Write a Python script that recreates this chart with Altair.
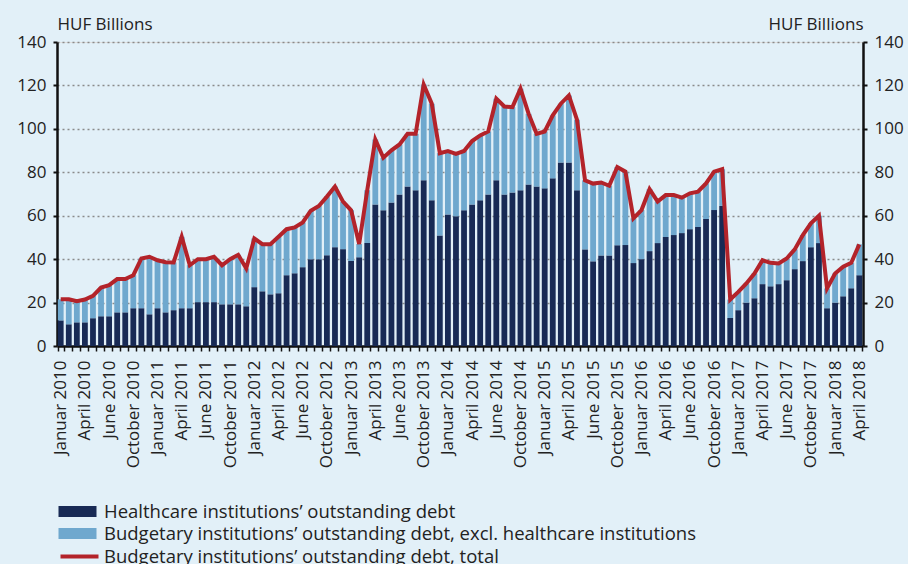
import altair as alt
import pandas as pd

# Healthcare institutions' outstanding debt (HUF bn), Jan 2010 .. Apr 2018
healthcare = [
    11.8, 10.0, 10.9, 10.9, 12.8, 13.7, 13.7, 15.5, 15.5, 17.4,
    17.4, 14.6, 17.4, 15.5, 16.5, 17.4, 17.4, 20.2, 20.2, 20.2,
    19.2, 19.2, 19.2, 18.3, 27.1, 25.2, 23.8, 24.3, 32.6, 33.5,
    36.3, 40.0, 40.0, 41.8, 45.5, 44.6, 39.1, 40.9, 47.4,
    65.2, 62.5, 66.1, 69.8, 73.5, 71.7, 76.3, 67.1, 50.9, 60.6,
    59.7, 62.5, 65.2, 67.1, 69.8, 76.3, 69.8, 70.7, 71.7, 74.4,
    73.5, 72.6, 77.2, 84.5, 84.5, 71.7, 44.5, 39.0, 41.7, 41.7,
    46.4, 46.5, 38.2, 40.0, 43.7, 47.4, 50.2, 51.1, 52.0, 53.8,
    54.8, 58.5, 62.6, 64.5, 12.9, 16.5, 20.0, 22.0, 28.5, 27.5,
    28.5, 30.3, 35.4, 39.1, 45.5, 47.4, 17.4, 20.0, 22.9, 26.6, 32.6,
]

# Budgetary institutions' outstanding debt, total (HUF bn)
total = [
    21.5, 21.5, 20.6, 21.4, 23.1, 26.9, 28.0, 30.8, 30.8, 32.6,
    40.3, 41.1, 39.5, 38.6, 38.5, 50.3, 37.2, 40.0, 40.0, 41.1,
    37.2, 40.0, 42.0, 35.7, 49.5, 46.9, 46.9, 50.3, 53.8, 54.6,
    56.9, 62.3, 64.5, 68.8, 73.4, 66.5, 62.5, 47.0, 71.7,
    95.1, 86.7, 90.1, 92.8, 97.7, 97.7, 120.4, 111.6, 88.8, 89.8,
    88.5, 89.8, 94.4, 97.0, 98.8, 113.9, 110.3, 110.0, 118.5, 107.0,
    97.7, 98.8, 106.2, 111.6, 115.4, 104.2, 76.3, 74.8, 75.3, 73.8,
    82.4, 80.3, 58.8, 62.6, 72.2, 66.5, 69.5, 69.5, 68.3, 70.3,
    71.1, 74.9, 80.3, 81.4, 21.4, 24.9, 28.8, 33.4, 39.5, 38.3,
    38.0, 40.3, 44.5, 51.1, 56.5, 60.0, 26.5, 33.4, 36.5, 38.3, 46.8,
]

# x-axis tick labels (every third month)
x_labels = []
for yr in range(2010, 2019):
    for m in ["Januar", "April", "June", "October"]:
        x_labels.append(f"{m} {yr}")
x_labels = x_labels[:34]

S_HC = "Healthcare institutions\u2019 outstanding debt"
S_EX = "Budgetary institutions\u2019 outstanding debt, excl. healthcare institutions"
S_TOT = "Budgetary institutions\u2019 outstanding debt, total"

C_DARK = "#182A55"
C_LIGHT = "#6FA8CE"
C_RED = "#B3232A"
BG = "#E2F0F8"
TXT = "#222222"
FONT = "Open Sans"
AX_FS = 17
LEG_FS = 18.5

rows = []
for i, (h, t) in enumerate(zip(healthcare, total)):
    rows.append({"idx": i, "series": S_HC, "value": h, "o": 0})
    rows.append({"idx": i, "series": S_EX, "value": round(t - h, 2), "o": 1})
bars_df = pd.DataFrame(rows)
line_df = pd.DataFrame({"idx": list(range(len(total))), "total": total, "s": S_TOT})

labels_js = "[" + ",".join("'" + l + "'" for l in x_labels) + "]"
label_expr = f"datum.value % 3 == 0 ? {labels_js}[floor(datum.value / 3)] : ''"

x_axis = alt.Axis(
    title=None, labelExpr=label_expr, labelAngle=-90, labelOverlap=False,
    labelFontSize=AX_FS, labelFont=FONT, labelColor=TXT, labelPadding=9,
    tickBand="extent", tickSize=5, tickColor="#111", tickWidth=1.5,
    domainColor="#111", domainWidth=2.5, grid=False,
)
x_enc = alt.X("idx:O", scale=alt.Scale(paddingInner=0.28, paddingOuter=0.1), axis=x_axis)

y_scale = alt.Scale(domain=[0, 140])
ticks = [0, 20, 40, 60, 80, 100, 120, 140]

bars = alt.Chart(bars_df).mark_bar().encode(
    x=x_enc,
    y=alt.Y("value:Q", stack="zero", scale=y_scale, axis=alt.Axis(
        orient="left", values=ticks, grid=True, gridDash=[2, 3], gridColor="#8a8a8a",
        gridWidth=1.3, domainColor="#111", domainWidth=2.5, tickColor="#111",
        tickWidth=2, tickSize=4, labelFontSize=AX_FS, labelFont=FONT, labelColor=TXT,
        labelPadding=7, title="HUF Billions", titleAngle=0, titleX=0, titleY=-13,
        titleAlign="left", titleBaseline="alphabetic", titleFont=FONT,
        titleFontSize=AX_FS, titleFontWeight="normal", titleColor=TXT,
    )),
    color=alt.Color("series:N", scale=alt.Scale(domain=[S_HC, S_EX], range=[C_DARK, C_LIGHT]),
                    legend=alt.Legend(
                        title=None, orient="none", legendX=1, legendY=460,
                        symbolType="M-2,-0.58H2V0.58H-2Z", symbolSize=361,
                        symbolStrokeWidth=0, labelFontSize=LEG_FS, labelFont=FONT,
                        labelColor=TXT, labelOffset=17, rowPadding=3, symbolOffset=10,
                        labelLimit=0,
                    )),
    order=alt.Order("o:Q"),
)

line = alt.Chart(line_df).mark_line(strokeWidth=4, color=C_RED).encode(
    x=x_enc,
    y=alt.Y("total:Q", scale=y_scale, axis=alt.Axis(
        orient="right", values=ticks, grid=False, domainColor="#111", domainWidth=2.5,
        tickColor="#111", tickWidth=2, tickSize=4, labelFontSize=AX_FS, labelFont=FONT,
        labelColor=TXT, labelPadding=7, title="HUF Billions", titleAngle=0, titleX=0,
        titleY=-13, titleAlign="right", titleBaseline="alphabetic", titleFont=FONT,
        titleFontSize=AX_FS, titleFontWeight="normal", titleColor=TXT,
    )),
    stroke=alt.Stroke("s:N", scale=alt.Scale(domain=[S_TOT], range=[C_RED]),
                      legend=alt.Legend(
                          title=None, orient="none", legendX=1, legendY=503,
                          symbolType="M-2,0H2", symbolSize=361, symbolStrokeWidth=4,
                          labelFontSize=LEG_FS, labelFont=FONT, labelColor=TXT,
                          labelOffset=13, symbolOffset=10, labelLimit=0,
                      )),
)

chart = alt.layer(bars, line).resolve_axis(y="independent").resolve_legend(
    color="independent", stroke="independent"
).properties(
    width=806, height=304, background=BG,
    autosize=alt.AutoSizeParams(type="none"),
    padding={"left": 57, "top": 42, "right": 45, "bottom": 218},
).configure_view(stroke=None, fill=BG).configure(font=FONT)

chart.save("out.html", embed_options={"renderer": "svg", "actions": False})
